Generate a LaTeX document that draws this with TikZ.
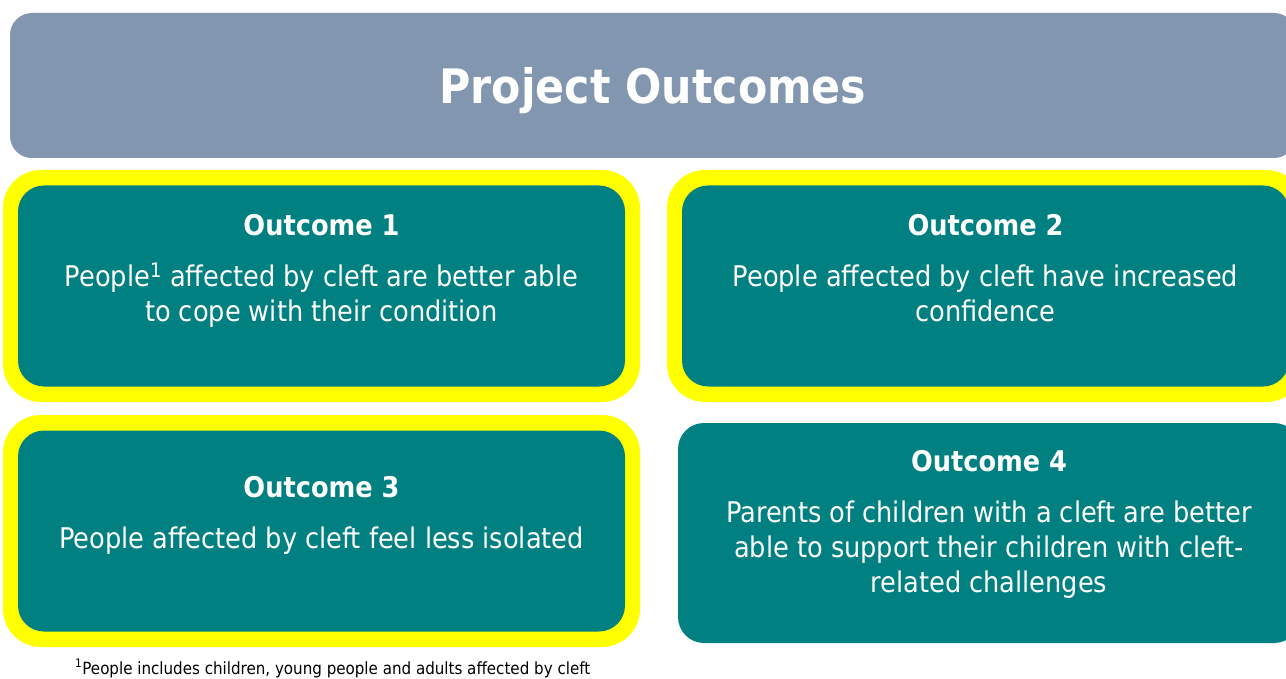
\documentclass[tikz,border=0pt]{standalone}
\usepackage{fontspec}
\setmainfont{DejaVu Sans Condensed}
\usepackage{tikz}
\usetikzlibrary{calc}
\definecolor{titleblue}{HTML}{8396AF}
\definecolor{tealbox}{HTML}{008080}
\definecolor{hiyellow}{HTML}{FFFF00}
\tikzstyle{titlebox}=[rectangle,rounded corners=22pt,fill=titleblue,inner sep=0pt,
                      text=white,font=\fontsize{47.5}{52}\selectfont\bfseries,text depth=0pt]
\tikzstyle{yellowbox}=[rectangle,rounded corners=38pt,fill=hiyellow,inner sep=0pt,
                       minimum width=637pt,minimum height=232pt]
\tikzstyle{tealbox}=[rectangle,rounded corners=26pt,fill=tealbox,inner sep=0pt,
                     minimum height=201pt]
\tikzstyle{outtext}=[text=white,inner sep=0pt,font=\fontsize{28.5}{35}\selectfont]
\newcommand\outlabel[3][600pt]{\parbox{#1}{\centering \textbf{#2} \\[16pt] #3 }}

\begin{document}
\begin{tikzpicture}[x=1pt,y=-1pt]
    \useasboundingbox (0,0) rectangle (1286,679);
    % heading
    \node [titlebox,minimum width=1286pt,minimum height=145pt] (title) at (653,85.5) {Project Outcomes};
    % outcome boxes
    \node [yellowbox] (y1) at (321.5,286) {};
    \node [tealbox,minimum width=607pt] (o1) at (y1) {};
    \node [yellowbox] (y2) at (985.5,286) {};
    \node [tealbox,minimum width=607pt] (o2) at (y2) {};
    \node [yellowbox] (y3) at (321.5,531) {};
    \node [tealbox,minimum width=607pt] (o3) at (y3) {};
    \node [tealbox,minimum width=622pt,minimum height=220pt] (o4) at (989,533) {};
    % texts
    \node [outtext] (t1) at ($(o1.north)+(0,86)$) {
        \outlabel{Outcome 1}{People\textsuperscript{1} affected by cleft are better able\\to cope with their condition}
    };
    \node [outtext] (t2) at ($(o2.north)+(0,83)$) {
        \outlabel{Outcome 2}{People affected by cleft have increased\\confidence}
    };
    \node [outtext] (t3) at ($(o3.north)+(0,85)$) {
        \outlabel{Outcome 3}{People affected by cleft feel less isolated}
    };
    \node [outtext] (t4) at ($(o4.north)+(0,102)$) {
        \outlabel{Outcome 4}{Parents of children with a cleft are better\\able to support their children with cleft-\\related challenges}
    };
    % footnote
    \node [anchor=base west,inner sep=0pt,font=\fontsize{16.8}{20}\selectfont] (note) at (75,674)
        {\textsuperscript{1}People includes children, young people and adults affected by cleft};
\end{tikzpicture}
\end{document}
